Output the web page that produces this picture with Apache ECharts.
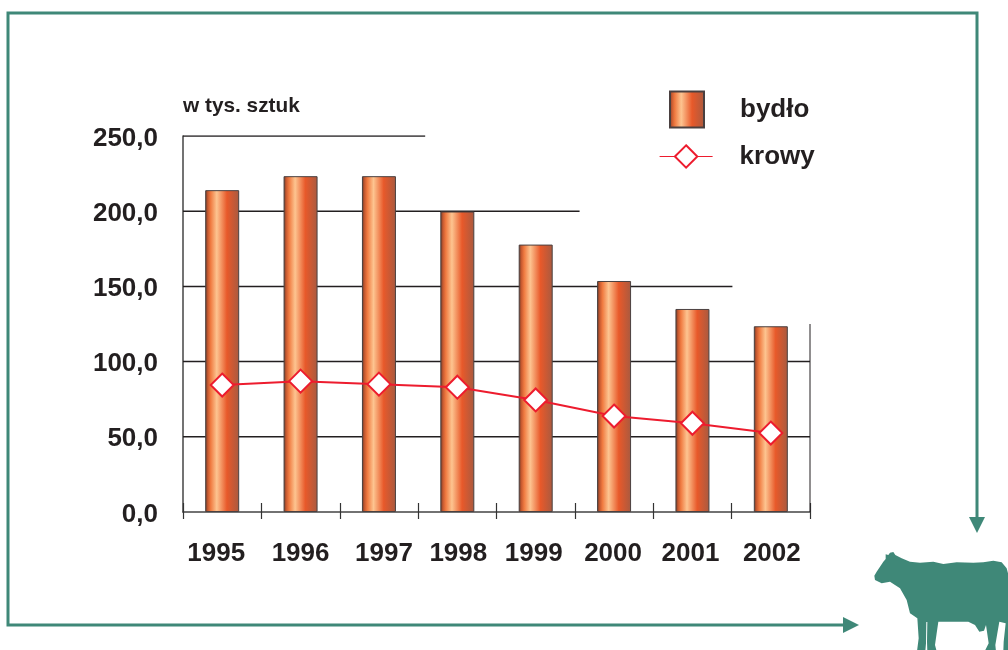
<!DOCTYPE html>
<html><head><meta charset="utf-8">
<style>html,body{margin:0;padding:0;background:#fff}#c{width:1008px;height:650px}</style>
<script src="https://cdn.jsdelivr.net/npm/echarts@6/dist/echarts.min.js"></script>
</head><body><div id="c"></div>
<script>
const years = ['1995','1996','1997','1998','1999','2000','2001','2002'];
const labelShift = [-6, 0, 5, 1, -2, -1, -2, 1];
const bydlo = [214, 223.3, 223.3, 199.8, 177.8, 153.6, 135, 123.5];
const krowy = [84.4, 87, 85, 83, 74.5, 63.8, 59, 52.5];
const gridTop250 = [[0,250],[3.09,250]];
const gridTop200 = [[0,200],[5.06,200]];
const gridTop150 = [[0,150],[7.01,150]];
const gridTop100 = [[0,100],[8,100]];
const gridTop50  = [[0,50],[8,50]];
const rightEdge  = [[8,0],[8,125]];
const GREEN = '#3f8878', INK = '#231f20', FONT = '"Liberation Sans", Arial, sans-serif';

const cowZoom = [[103,197],[110,185],[120,170],[130,155],[137,147],[137,133],[145,135],[150,128],[160,126],[166,135],[185,145],[210,155],[240,158],[280,155],[310,162],[350,157],[400,158],[430,157],[460,152],[485,157],[500,175],[504,190],[510,200],[510,424],[490,424],[491,395],[497,340],[478,335],[472,370],[466,405],[468,424],[434,424],[446,400],[438,345],[432,362],[418,365],[405,345],[385,335],[295,335],[290,370],[285,405],[290,424],[262,424],[261,395],[262,336],[259,336],[258,400],[256,424],[231,424],[236,385],[232,325],[210,310],[200,270],[180,235],[150,215],[125,220],[105,210]];
const cow = cowZoom.map(p => [840 + p[0]/3, 510 + p[1]/3]);

const barGrad = {type:'linear',x:0,y:0,x2:1,y2:0,colorStops:[
  {offset:0,color:'#6a3826'},{offset:0.08,color:'#c85a30'},{offset:0.16,color:'#f07a40'},{offset:0.34,color:'#fdc490'},
  {offset:0.64,color:'#e8592a'},{offset:1,color:'#a85a40'}]};
const gl = d => ({type:'line',xAxisIndex:1,yAxisIndex:0,data:d,symbol:'none',silent:true,z:1,
  lineStyle:{color:INK,width:1.5},animation:false});

const chart = echarts.init(document.getElementById('c'),null,{renderer:'canvas'});
chart.setOption({
  animation:false,
  backgroundColor:'#fff',
  grid:{left:183,right:198,top:136,bottom:138,containLabel:false},
  legend:[
    {data:[{name:'bydło',icon:'rect'}],left:669,top:90.5,padding:0,itemWidth:34,itemHeight:36,orient:'horizontal',
     textStyle:{fontFamily:FONT,fontWeight:'bold',fontSize:26,color:INK,padding:[0,0,0,31]}},
    {data:['krowy'],left:659,top:143.5,padding:0,itemWidth:53,itemHeight:28,
     lineStyle:{width:1.2},
     textStyle:{fontFamily:FONT,fontWeight:'bold',fontSize:26,color:INK,padding:[0,0,0,22]}}
  ],
  xAxis:[
    {type:'category',data:years.map((y,i)=>({value:y,textStyle:{
        padding: labelShift[i]>=0?[0,0,0,labelShift[i]*2]:[0,-labelShift[i]*2,0,0]}})),
     axisLine:{lineStyle:{color:'#444',width:1.5}},
     axisTick:{show:true,length:7,lineStyle:{color:'#333',width:1.2}},
     axisLabel:{margin:29,interval:0,fontFamily:FONT,fontWeight:'bold',fontSize:26,color:INK}},
    {type:'value',min:0,max:8,interval:1,position:'bottom',
     axisLine:{show:false},axisLabel:{show:false},splitLine:{show:false},
     axisTick:{show:true,inside:true,length:9,lineStyle:{color:'#333',width:1.2}}}
  ],
  yAxis:{type:'value',min:0,max:250,interval:50,
     name:'w tys. sztuk',nameLocation:'end',nameGap:19,
     nameTextStyle:{fontFamily:FONT,fontWeight:'bold',fontSize:20.8,color:INK,align:'left'},
     axisLine:{show:true,lineStyle:{color:'#444',width:1.5}},
     axisTick:{show:false},splitLine:{show:false},
     axisLabel:{margin:25,fontFamily:FONT,fontWeight:'bold',fontSize:26,color:INK,verticalAlign:'top',lineHeight:5,
       formatter:v=>v.toFixed(1).replace('.',',')}},
  series:[
    gl(gridTop250),gl(gridTop200),gl(gridTop150),gl(gridTop100),gl(gridTop50),
    {...gl(rightEdge),lineStyle:{color:INK,width:1}},
    {name:'bydło',type:'bar',data:bydlo,barWidth:34,z:2,
     itemStyle:{color:barGrad,borderColor:'#4a4040',borderWidth:1}},
    {name:'krowy',type:'line',data:krowy,z:3,symbol:'diamond',symbolSize:23,showSymbol:true,
     lineStyle:{color:'#ed1c2e',width:2},
     itemStyle:{color:'#fff',borderColor:'#ed1c2e',borderWidth:2}}
  ],
  graphic:[
    {type:'polyline',shape:{points:[[977,520],[977,13],[8,13],[8,625],[845,625]]},
     style:{stroke:GREEN,lineWidth:3,fill:null},silent:true},
    {type:'polygon',shape:{points:[[969,517],[985,517],[977,533]]},style:{fill:GREEN},silent:true},
    {type:'polygon',shape:{points:[[843,617],[843,633],[859,625]]},style:{fill:GREEN},silent:true},
    {type:'polygon',shape:{points:cow},style:{fill:GREEN},silent:true}
  ]
});
</script></body></html>
